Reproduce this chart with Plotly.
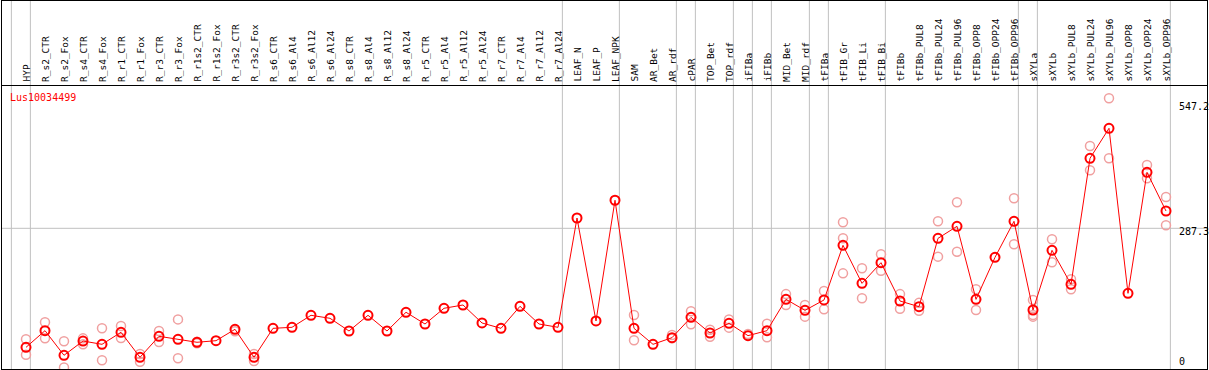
import plotly.graph_objects as go

categories = ["HYP", "R_s2_CTR", "R_s2_Fox", "R_s4_CTR", "R_s4_Fox", "R_r1_CTR", "R_r1_Fox",
              "R_r3_CTR", "R_r3_Fox", "R_r1s2_CTR", "R_r1s2_Fox", "R_r3s2_CTR", "R_r3s2_Fox",
              "R_s6_CTR", "R_s6_Al4", "R_s6_Al12", "R_s6_Al24", "R_s8_CTR", "R_s8_Al4",
              "R_s8_Al12", "R_s8_Al24", "R_r5_CTR", "R_r5_Al4", "R_r5_Al12", "R_r5_Al24",
              "R_r7_CTR", "R_r7_Al4", "R_r7_Al12", "R_r7_Al24", "LEAF_N", "LEAF_P", "LEAF_NPK",
              "SAM", "AR_Bet", "AR_rdf", "cPAR", "TOP_Bet", "TOP_rdf", "iFIBa", "iFIBb",
              "MID_Bet", "MID_rdf", "tFIBa", "tFIB_Gr", "tFIB_Li", "tFIB_Bi", "tFIBb",
              "tFIBb_PUL8", "tFIBb_PUL24", "tFIBb_PUL96", "tFIBb_OPP8", "tFIBb_OPP24",
              "tFIBb_OPP96", "sXYLa", "sXYLb", "sXYLb_PUL8", "sXYLb_PUL24", "sXYLb_PUL96",
              "sXYLb_OPP8", "sXYLb_OPP24", "sXYLb_OPP96"]

means = [42.5, 76.8, 26.1, 55.5, 48.7, 73.4, 22, 65.2, 59, 52.9, 56.2, 79.6, 22,
         81.6, 83.7, 108.4, 102.2, 76.1, 108.4, 76.1, 114.6, 90.5, 122.8, 129.6, 92.6,
         81.6, 126.9, 90.5, 83.7, 308.5, 96.7, 345,
         81.6, 48.7, 62.4, 104.2, 72, 91.9, 66.5, 76.8, 141.2, 118.6, 139.9, 252.3,
         174.1, 216.6, 137.8, 126.1, 266.7, 291.4, 141.2, 227.6, 301.7, 119.3, 242,
         172.1, 431.3, 493, 153.6, 402.5, 322.9]

rep_a = [59, 94, 55, 61, 81.6, 86.4, 28.8, 76.1, 100, 54, None, 75.5, 28.8,
         None, None, None, None, None, None, None, None, None, None, None, None,
         None, None, None, None, None, None, None,
         109, None, 67.9, 116.6, 78.8, 100, 70, 91.2, 152, 129.6, 158.4, 299.6,
         205, 233.8, 152, 134, 301.7, 340.8, 161.8, None, 349, 139.9, 264.7,
         182.4, 456.6, 554.7, None, 417.5, 351.7]

rep_b = [27.4, 61, 1, 48.7, 15.8, 61.7, 13, 53.5, 20, 51, None, None, 14.4,
         None, None, None, None, None, None, None, None, None, None, None, None,
         None, None, None, None, None, None, None,
         57, None, 61, 89.8, 64.4, 83, None, 63, 129.6, 105.6, 120.6, 266.7,
         143.3, 200, 122, 117.9, 229, 239.2, 119.3, None, 254.4, 109, 217.4,
         161.8, 406.6, 431.3, None, 390.2, 293.5]

rep_c = [None] * 43 + [194.7] + [None] * 9 + [105.6] + [None] * 7

group_ends = [-1, 0, 28, 31, 34, 35, 37, 38, 39, 41, 42, 45, 52, 53, 60]
ref_value = 287.3
axis_labels = ["547.2", "287.3", "0"]

W, H = 1209, 370
X0, DX = 26.0, 19.0          # pixel centre of first category, pixel step
Y0, KY = 368.0, 0.4862       # pixel of value 0, pixels per unit

def py(p):
    return 1 - p / H

def px(p):
    return p / W

xs = list(range(len(categories)))
fig = go.Figure()

rep_style = dict(symbol="circle-open", size=9, color="#f0a0a0", line=dict(width=1.5, color="#f0a0a0"))
for reps in (rep_a, rep_b, rep_c):
    fig.add_trace(go.Scatter(x=xs, y=reps, mode="markers", marker=rep_style,
                             hoverinfo="skip", showlegend=False, cliponaxis=False))

fig.add_trace(go.Scatter(x=xs, y=means, mode="lines+markers",
                         line=dict(color="#ff0000", width=1),
                         marker=dict(symbol="circle-open", size=9, color="#ff0000",
                                     line=dict(width=2, color="#ff0000")),
                         showlegend=False, cliponaxis=False))

shapes = []
shapes.append(dict(type="line", xref="paper", yref="y", x0=px(1), x1=px(1207),
                   y0=ref_value, y1=ref_value, line=dict(color="#c0c0c0", width=1), layer="below"))
for k in group_ends:
    shapes.append(dict(type="line", xref="x", yref="paper", x0=k + 0.23, x1=k + 0.23,
                       y0=py(369), y1=py(0), line=dict(color="#c0c0c0", width=1), layer="below"))
blk = dict(color="#000000", width=1)
shapes.append(dict(type="line", xref="paper", yref="paper", x0=px(1), x1=px(1207.5), y0=py(0.5), y1=py(0.5), line=blk))
shapes.append(dict(type="line", xref="paper", yref="paper", x0=px(1), x1=px(1207.5), y0=py(85.5), y1=py(85.5), line=blk))
shapes.append(dict(type="line", xref="paper", yref="paper", x0=px(1), x1=px(1207.5), y0=py(369.5), y1=py(369.5), line=blk))
shapes.append(dict(type="line", xref="paper", yref="paper", x0=px(1.5), x1=px(1.5), y0=py(0), y1=py(370), line=blk))
shapes.append(dict(type="line", xref="paper", yref="paper", x0=px(1207.5), x1=px(1207.5), y0=py(0), y1=py(370), line=blk))

annotations = []
for i, c in enumerate(categories):
    annotations.append(dict(x=i, y=py(83), xref="x", yref="paper", text=c, showarrow=False,
                            textangle=-90, xanchor="center", yanchor="bottom",
                            font=dict(family="DejaVu Sans Mono", size=9.5, color="#000000"),
                            borderpad=0))
annotations.append(dict(x=px(9), y=py(97), xref="paper", yref="paper", text="Lus10034499",
                        showarrow=False, xanchor="left", yanchor="middle", borderpad=0,
                        font=dict(family="DejaVu Sans Mono", size=10, color="#ff0000")))
for lab, ypix in zip(axis_labels, [106.7, 231.7, 361.7]):
    annotations.append(dict(x=px(1178), y=py(ypix), xref="paper", yref="paper", text=lab,
                            showarrow=False, xanchor="left", yanchor="middle", borderpad=0,
                            font=dict(family="DejaVu Sans Mono", size=10, color="#000000")))

fig.update_layout(
    width=W, height=H, autosize=False,
    margin=dict(l=0, r=0, t=0, b=0),
    paper_bgcolor="#ffffff", plot_bgcolor="#ffffff",
    xaxis=dict(range=[-X0 / DX, (W - X0) / DX], visible=False, fixedrange=True),
    yaxis=dict(range=[(Y0 - H) / KY, Y0 / KY], visible=False, fixedrange=True),
    shapes=shapes, annotations=annotations,
)

fig.write_html("out.html", config={"displayModeBar": False},
               post_script="document.body.style.margin='0';document.body.style.overflow='hidden';")
